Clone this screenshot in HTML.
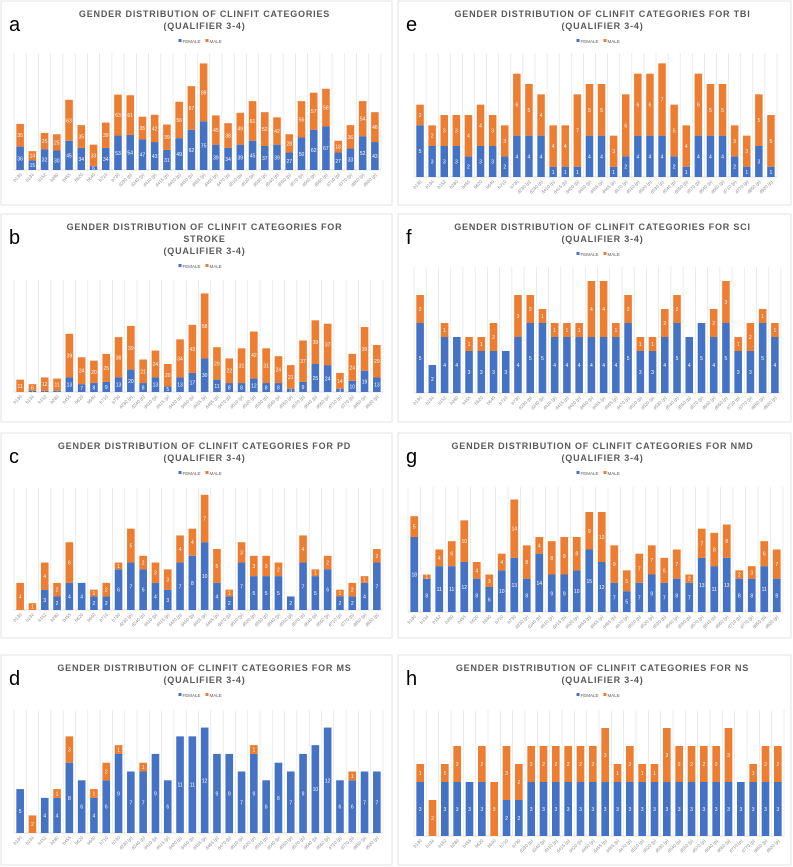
<!DOCTYPE html>
<html><head><meta charset="utf-8"><style>
body{margin:0;background:#fff;width:793px;height:867px;overflow:hidden;font-family:"Liberation Sans",sans-serif}
svg{position:absolute;left:0;top:0}
</style></head><body>
<svg id="fig" width="793" height="867"></svg>
<script>
const categories=["b130","b134","b152","b280","b455","b620","b640","b710","b730","d230 (p)","d240 (p)","d410 (p)","d415 (p)","d420 (p)","d450 (p)","d455 (p)","d465 (p)","d470 (p)","d510 (p)","d520 (p)","d530 (p)","d540 (p)","d550 (p)","d570 (p)","d640 (p)","d660 (p)","d710 (p)","d770 (p)","d850 (p)","d920 (p)"];
const femaleA=[36,15,32,30,45,34,6,34,53,54,47,43,31,49,62,75,39,34,39,45,37,39,27,50,62,67,27,33,52,43];
const maleA=[35,14,25,25,63,35,33,39,63,61,35,42,39,56,67,89,45,38,49,61,52,42,28,56,57,58,18,36,54,46];
const femaleB=[0,1,1,1,13,7,8,9,13,20,8,13,5,13,17,30,11,8,8,12,8,8,3,9,25,24,3,10,19,13];
const maleB=[11,6,12,11,39,24,20,25,36,39,21,24,20,34,43,58,29,22,31,42,31,24,21,37,39,37,14,24,39,29];
const femaleC=[0,0,3,2,4,4,2,2,6,7,6,4,3,7,8,10,4,2,7,5,5,5,2,7,5,6,2,2,4,7];
const maleC=[4,1,4,2,6,0,1,2,1,5,2,3,3,4,4,7,5,1,3,3,3,2,0,4,1,2,1,2,1,2];
const femaleD=[5,0,4,4,8,6,4,6,9,7,7,9,6,11,11,12,9,9,7,9,6,8,7,9,10,12,6,6,7,7];
const maleD=[0,2,0,1,3,0,1,2,1,0,1,0,0,0,0,0,0,0,0,1,0,0,0,0,0,0,0,1,0,0];
const femaleE=[5,3,3,3,2,3,3,2,4,4,4,1,1,1,4,4,1,2,4,4,4,2,1,4,4,4,2,1,3,1];
const maleE=[2,2,3,3,4,4,3,3,6,5,4,4,4,7,5,5,3,6,6,6,7,5,4,6,5,5,3,3,5,5];
const femaleF=[5,2,4,4,3,3,3,3,4,5,5,4,4,4,4,4,4,5,3,3,4,5,4,5,4,5,3,3,5,4];
const maleF=[2,0,1,0,1,1,2,0,3,2,1,1,1,1,4,4,1,2,1,1,2,2,0,0,2,3,1,2,1,1];
const femaleG=[18,8,11,11,12,8,6,10,13,8,14,9,9,10,15,12,7,5,7,9,7,8,7,13,11,13,8,8,11,8];
const maleG=[5,1,4,6,10,4,3,4,14,8,4,8,9,8,9,12,9,5,7,7,6,7,2,7,8,8,2,3,6,7];
const femaleH=[3,0,3,3,3,3,0,2,2,3,3,3,3,3,3,3,3,3,3,3,3,3,3,3,3,3,3,3,3,3];
const maleH=[1,2,1,2,0,2,3,3,2,2,2,2,2,2,2,3,1,2,1,1,3,2,2,2,2,3,0,1,2,2];

const NS="http://www.w3.org/2000/svg";
const svg=document.getElementById('fig');
function mk(tag,attrs,parent){const e=document.createElementNS(NS,tag);for(const k in attrs)e.setAttribute(k,attrs[k]);(parent||svg).appendChild(e);return e;}
const panels=[
 {id:'a',x:1,y:1,w:391,h:204,t:["GENDER DISTRIBUTION OF CLINFIT CATEGORIES","(QUALIFIER 3-4)"],f:femaleA,m:maleA,max:180,top:53,base:170,l:14,r:381},
 {id:'b',x:1,y:214,w:391,h:208,t:["GENDER DISTRIBUTION OF CLINFIT CATEGORIES FOR","STROKE","(QUALIFIER 3-4)"],f:femaleB,m:maleB,max:100,top:280,base:392,l:14,r:383},
 {id:'c',x:1,y:433,w:391,h:205,t:["GENDER DISTRIBUTION OF CLINFIT CATEGORIES FOR PD","(QUALIFIER 3-4)"],f:femaleC,m:maleC,max:18,top:488,base:610,l:14,r:383},
 {id:'d',x:1,y:655,w:391,h:210,t:["GENDER DISTRIBUTION OF CLINFIT CATEGORIES FOR MS","(QUALIFIER 3-4)"],f:femaleD,m:maleD,max:14,top:710,base:833,l:14,r:383},
 {id:'e',x:398,y:1,w:393,h:204,t:["GENDER DISTRIBUTION OF CLINFIT CATEGORIES FOR TBI","(QUALIFIER 3-4)"],f:femaleE,m:maleE,max:12,top:53,base:177,l:414,r:777},
 {id:'f',x:398,y:214,w:393,h:208,t:["GENDER DISTRIBUTION OF CLINFIT CATEGORIES FOR SCI","(QUALIFIER 3-4)"],f:femaleF,m:maleF,max:9,top:267,base:393,l:414,r:781},
 {id:'g',x:398,y:433,w:393,h:205,t:["GENDER DISTRIBUTION OF CLINFIT CATEGORIES FOR NMD","(QUALIFIER 3-4)"],f:femaleG,m:maleG,max:30,top:487,base:612,l:408,r:783},
 {id:'h',x:398,y:655,w:393,h:210,t:["GENDER DISTRIBUTION OF CLINFIT CATEGORIES FOR NS","(QUALIFIER 3-4)"],f:femaleH,m:maleH,max:7,top:710,base:836,l:414,r:784}
];
panels.forEach(p=>{
 const g=mk('g',{});
 
 
 const box=mk('rect',{x:p.x,y:p.y,width:p.w,height:p.h,fill:'#fff',stroke:'#e3e3e3','stroke-width':1},g);
 
 
 const cx=p.x+p.w/2+8;
 p.t.forEach((line,i)=>{
  const t=mk('text',{x:cx,y:p.y+16+i*12,'text-anchor':'middle','font-size':9,'font-weight':'bold',fill:'#595959','letter-spacing':'0.8'},g);
  t.textContent=line;
  
  
 });
 const lt=mk('text',{x:p.x+8,y:p.y+30,'font-size':20,fill:'#000'},g);
 lt.textContent=p.id;
 
 
 const ly=p.y+16+p.t.length*12+2;
 const lg=mk('g',{},g);
 
 
 mk('rect',{x:cx-26,y:ly-4,width:3,height:3,fill:'#4472c4'},lg);
 const l1=mk('text',{x:cx-22,y:ly,'font-size':4.5,fill:'#595959'},lg);l1.textContent='FEMALE';
 
 
 mk('rect',{x:cx+1,y:ly-4,width:3,height:3,fill:'#ed7d31'},lg);
 const l2=mk('text',{x:cx+5,y:ly,'font-size':4.5,fill:'#595959'},lg);l2.textContent='MALE';
 
 
 const n=categories.length, cw=(p.r-p.l)/n;
 const xc=i=>p.l+cw*(i+0.5);
 const yv=v=>p.base-(p.base-p.top)*v/p.max;
 for(let i=0;i<=n;i++){
  const gl=mk('line',{x1:p.l+cw*i,x2:p.l+cw*i,y1:p.top,y2:p.base,stroke:'#e4e4e4','stroke-width':0.7},g);
  
  
 }
 const ax=mk('line',{x1:p.l,x2:p.r,y1:p.base,y2:p.base,stroke:'#d9d9d9','stroke-width':0.8},g);
 
 
 const bw=cw*0.62;
 categories.forEach((c,i)=>{
  const fv=p.f[i], mv=p.m[i];
  const y0=yv(0),y1=yv(fv),y2=yv(fv+mv);
  if(fv>0){
   const r=mk('rect',{x:xc(i)-bw/2,y:y1,width:bw,height:y0-y1,fill:'#4472c4'},g);
   
   
   const tl=mk('text',{x:xc(i),y:(y0+y1)/2+2,'text-anchor':'middle','font-size':5,fill:'#fff'},g);tl.textContent=fv;
   
   
  }
  if(mv>0){
   const r=mk('rect',{x:xc(i)-bw/2,y:y2,width:bw,height:y1-y2,fill:'#ed7d31'},g);
   
   
   const tl=mk('text',{x:xc(i),y:(y1+y2)/2+2,'text-anchor':'middle','font-size':5,fill:'#fff'},g);tl.textContent=mv;
   
   
  }
  const cl=mk('text',{x:xc(i)+2,y:p.base+5,'text-anchor':'end','font-size':4.5,fill:'#8c8c8c',transform:`rotate(-45 ${xc(i)+2} ${p.base+5})`},g);
  cl.textContent=c;
  
  
 });
});
</script>
</body></html>
